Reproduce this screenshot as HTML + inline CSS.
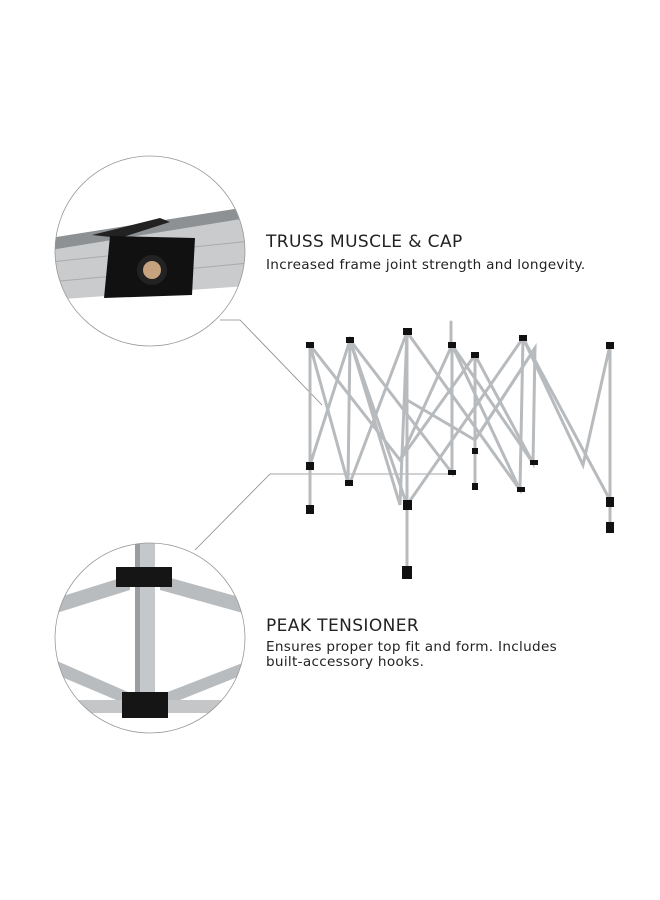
<!DOCTYPE html>
<html><head><style>
body{margin:0;width:660px;height:900px;background:#fff;overflow:hidden;position:relative;font-family:"DejaVu Sans","Liberation Sans",sans-serif;color:#222}
.t{position:absolute;left:266px;font-size:17px;letter-spacing:0.4px}
.d{position:absolute;left:266px;font-size:13.6px;line-height:15px;letter-spacing:0.3px}
svg{position:absolute;left:0;top:0}
</style></head><body>
<svg width="660" height="900">
<defs>
<clipPath id="c1"><circle cx="150" cy="251" r="95"/></clipPath>
<clipPath id="c2"><circle cx="150" cy="638" r="95"/></clipPath>
</defs>
<polyline points="220,320 240,320 322,405" fill="none" stroke="#888" stroke-width="0.8"/>
<polyline points="195,550 270,474 450,474" fill="none" stroke="#888" stroke-width="0.8"/>
<g clip-path="url(#c1)">
<polygon points="50,238 260,205 260,285 50,300" fill="#c9cbcd"/>
<polygon points="50,238 260,205 260,216 50,250" fill="#8d9194"/>
<line x1="50" y1="262" x2="260" y2="240" stroke="#aaa"/>
<line x1="50" y1="282" x2="260" y2="262" stroke="#aaa"/>
<polygon points="92,235 160,218 170,222 120,238" fill="#222"/>
<polygon points="110,236 195,238 192,295 104,298" fill="#111"/>
<circle cx="152" cy="270" r="15" fill="#222"/>
<circle cx="152" cy="270" r="9" fill="#c7a27f"/>
</g>
<circle cx="150" cy="251" r="95" fill="none" stroke="#999" stroke-width="0.8"/>
<g clip-path="url(#c2)">
<polygon points="50,600 130,575 130,590 50,615" fill="#b9bcbf"/>
<polygon points="160,575 250,600 250,615 160,590" fill="#b9bcbf"/>
<polygon points="50,658 135,695 135,708 50,672" fill="#b9bcbf"/>
<polygon points="160,695 250,660 250,672 160,708" fill="#b9bcbf"/>
<polygon points="60,700 240,700 240,713 60,713" fill="#c4c6c8"/>
<rect x="135" y="535" width="20" height="170" fill="#c5c8cb"/>
<rect x="135" y="535" width="5" height="170" fill="#9a9ea2"/>
<rect x="116" y="567" width="56" height="20" fill="#151515"/>
<rect x="122" y="692" width="46" height="26" fill="#151515"/>
</g>
<circle cx="150" cy="638" r="95" fill="none" stroke="#999" stroke-width="0.8"/>
<g stroke="#b8bbbe" stroke-width="3" fill="none" stroke-linecap="round">
<line x1="310" y1="345" x2="310" y2="512"/>
<line x1="407" y1="332" x2="407" y2="575"/>
<line x1="452" y1="345" x2="452" y2="473"/>
<line x1="475" y1="355" x2="475" y2="488"/>
<line x1="610" y1="345" x2="610" y2="530"/>
<line x1="451" y1="322" x2="451" y2="345"/>
<polyline points="310,345 348,483 350,340 400,505 407,332 350,483"/>
<polyline points="310,465 350,340 407,505"/>
<polyline points="407,332 520,490 523,338 583,465 610,345"/>
<polyline points="407,505 523,338 610,500"/>
<polyline points="310,345 400,460 452,345 520,490"/>
<polyline points="400,460 475,355 533,463 535,348 475,440"/>
<polyline points="350,340 452,473 452,345 533,463"/>
<polyline points="407,400 475,440 535,348"/>
</g>
<g fill="#111">
<rect x="306" y="342" width="8" height="6"/><rect x="346" y="337" width="8" height="6"/>
<rect x="403" y="328" width="9" height="7"/><rect x="448" y="342" width="8" height="6"/>
<rect x="471" y="352" width="8" height="6"/><rect x="519" y="335" width="8" height="6"/>
<rect x="606" y="342" width="8" height="7"/>
<rect x="306" y="462" width="8" height="8"/><rect x="345" y="480" width="8" height="6"/>
<rect x="403" y="500" width="9" height="10"/><rect x="448" y="470" width="8" height="5"/>
<rect x="472" y="448" width="6" height="6"/><rect x="517" y="487" width="8" height="5"/>
<rect x="530" y="460" width="8" height="5"/><rect x="606" y="497" width="8" height="10"/>
<rect x="306" y="505" width="8" height="9"/><rect x="402" y="566" width="10" height="13"/>
<rect x="472" y="483" width="6" height="7"/><rect x="606" y="522" width="8" height="11"/>
</g>
</svg>
<div class="t" style="top:232px">TRUSS MUSCLE &amp; CAP</div>
<div class="d" style="top:258px">Increased frame joint strength and longevity.</div>
<div class="t" style="top:616px">PEAK TENSIONER</div>
<div class="d" style="top:640px">Ensures proper top fit and form. Includes<br>built-accessory hooks.</div>
</body></html>
